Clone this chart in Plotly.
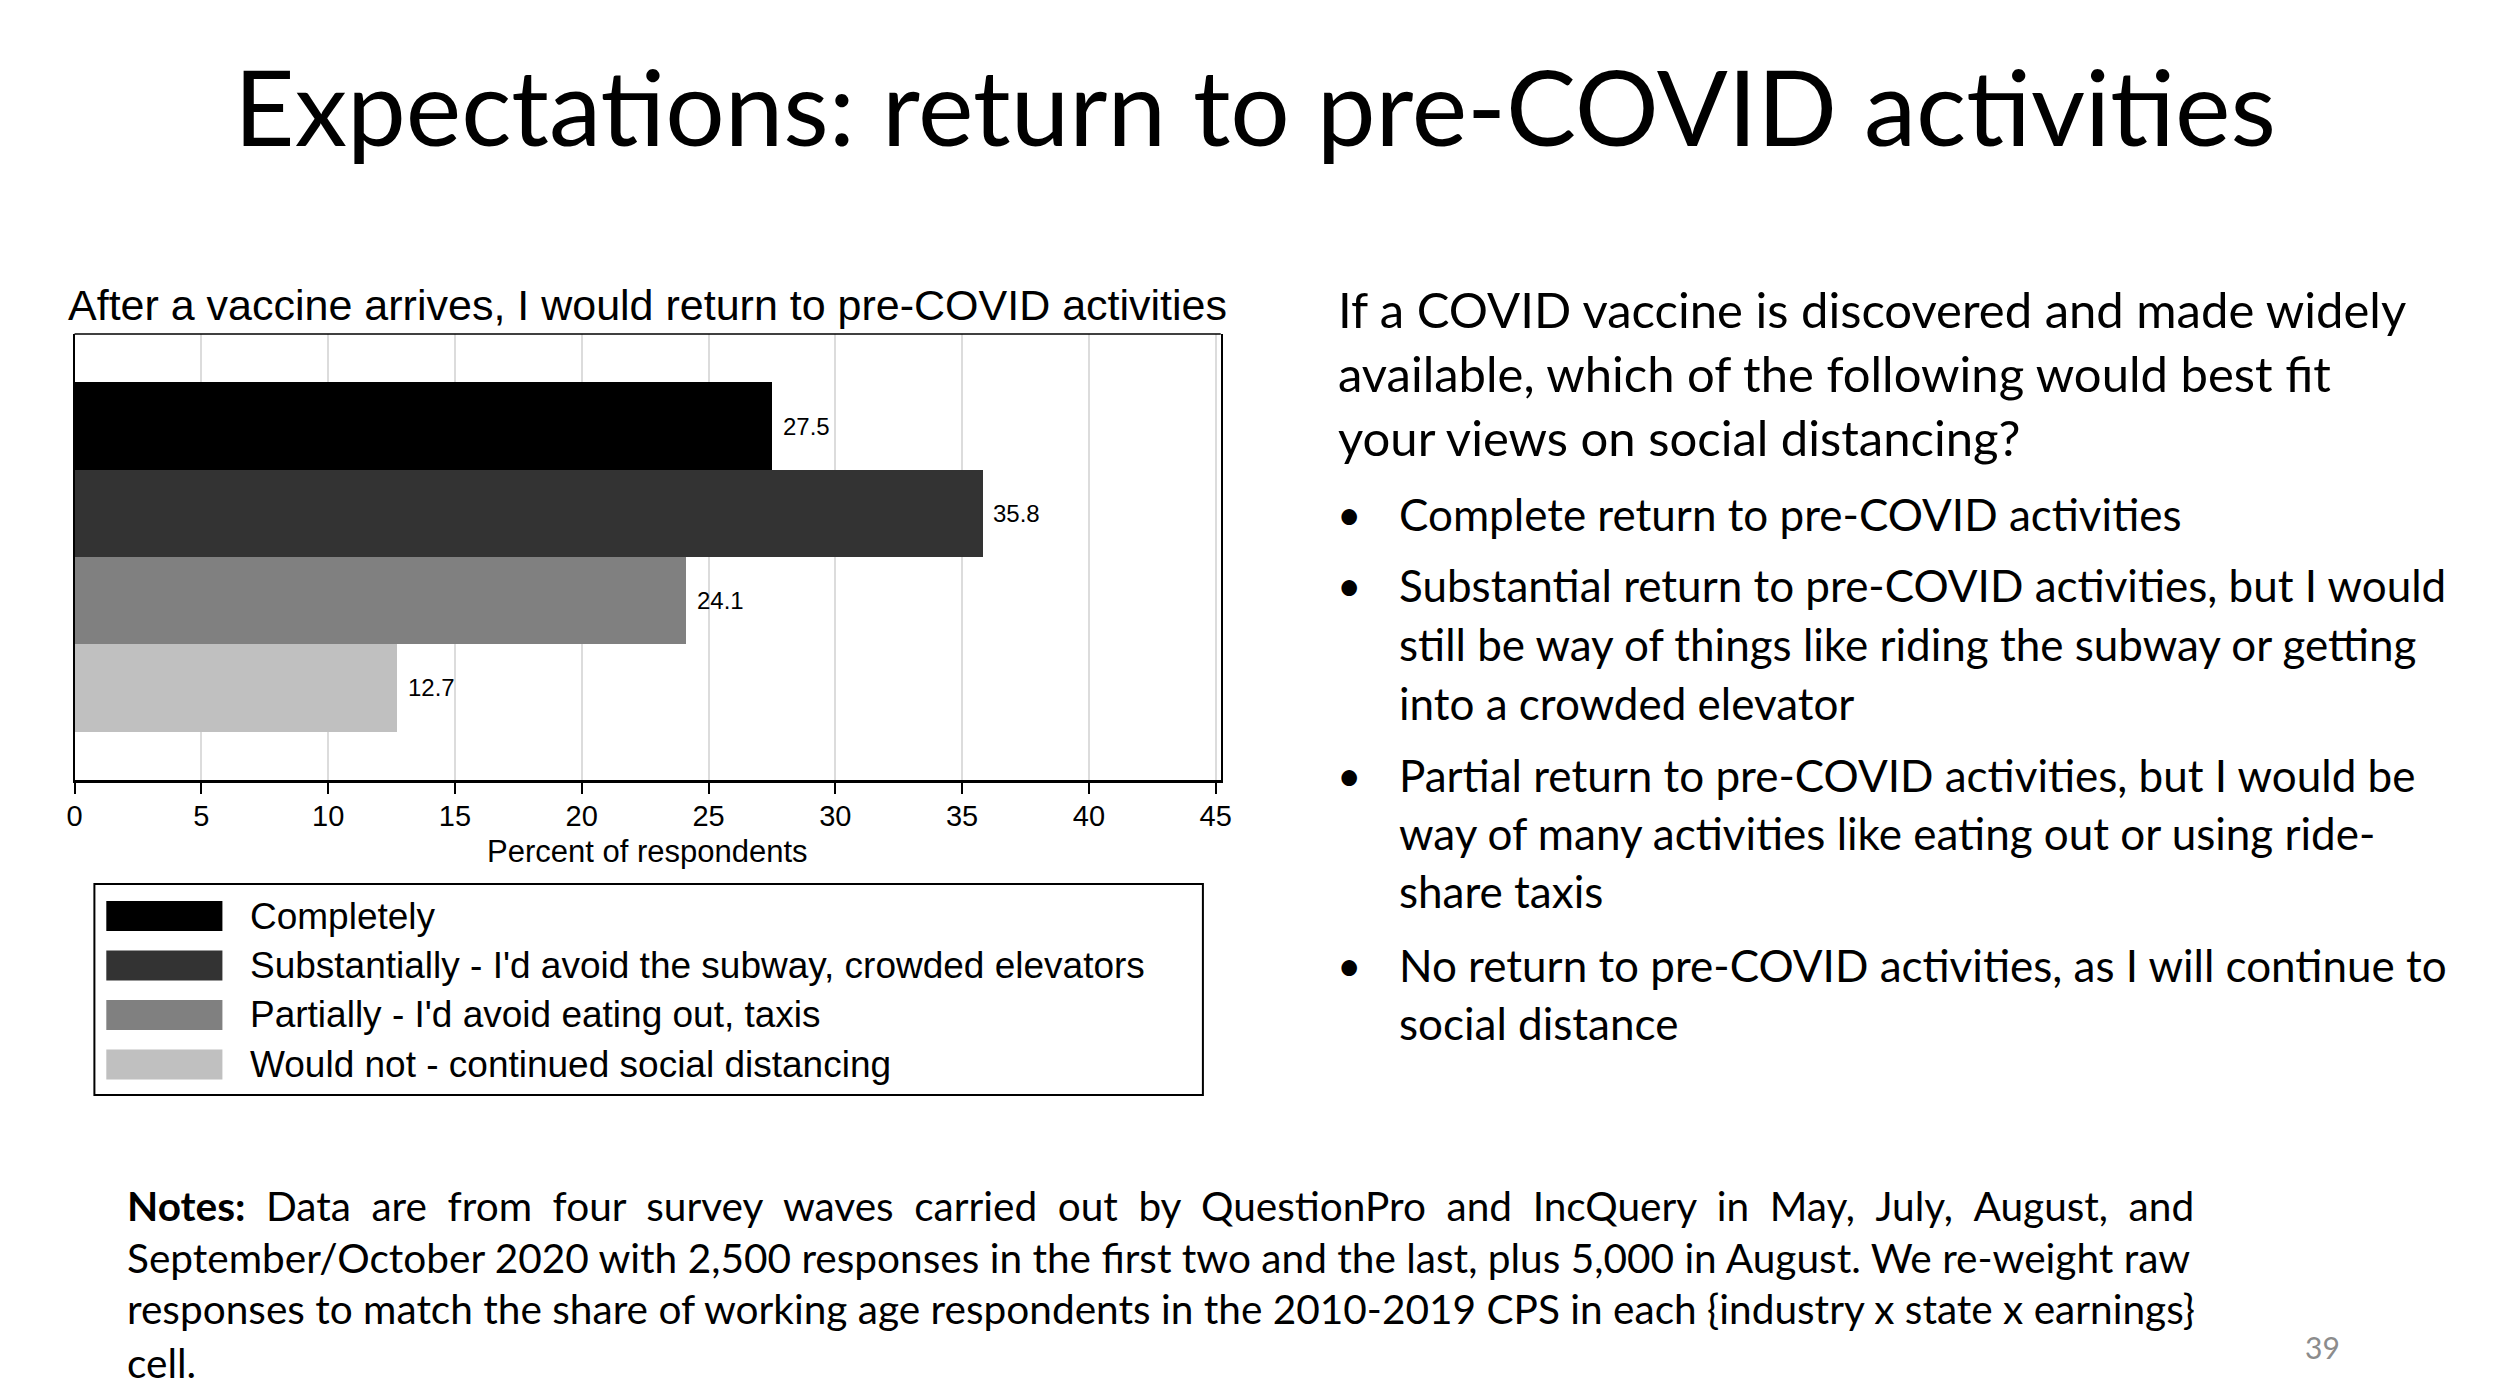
import plotly.graph_objects as go

# ---------------- data ----------------
categories = [
    "Completely",
    "Substantially - I'd avoid the subway, crowded elevators",
    "Partially - I'd avoid eating out, taxis",
    "Would not - continued social distancing",
]
values = [27.5, 35.8, 24.1, 12.7]
bar_colors = ["#000000", "#333333", "#808080", "#c0c0c0"]
x_ticks = [0, 5, 10, 15, 20, 25, 30, 35, 40, 45]

slide_title = "Expectations: return to pre-COVID activities"
chart_title = "After a vaccine arrives, I would return to pre-COVID activities"
x_axis_title = "Percent of respondents"

question_lines = [
    "If a COVID vaccine is discovered and made widely",
    "available, which of the following would best fit",
    "your views on social distancing?",
]
bullet_items = [
    ["Complete return to pre-COVID activities"],
    ["Substantial return to pre-COVID activities, but I would",
     "still be way of things like riding the subway or getting",
     "into a crowded elevator"],
    ["Partial return to pre-COVID activities, but I would be",
     "way of many activities like eating out or using ride-",
     "share taxis"],
    ["No return to pre-COVID activities, as I will continue to",
     "social distance"],
]
notes_lines = [
    "<b>Notes:</b> Data are from four survey waves carried out by QuestionPro and IncQuery in May, July, August, and",
    "September/October 2020 with 2,500 responses in the first two and the last, plus 5,000 in August. We re-weight raw",
    "responses to match the share of working age respondents in the 2010-2019 CPS in each {industry x state x earnings}",
    "cell.",
]
page_number = "39"

# ---------------- layout helpers ----------------
W, H = 2498, 1390


def px(x):
    return x / W


def py(y):
    return 1 - y / H


CHART_FONT = "Liberation Sans, Arial, sans-serif"
SLIDE_FONT = "Lato, Open Sans, sans-serif"

plot_left, plot_right = 59, 1214
plot_top, plot_bottom = 326, 772

fig = go.Figure()

n = len(categories)
for i, (cat, v, c) in enumerate(zip(categories, values, bar_colors)):
    fig.add_trace(go.Bar(
        x=[v], y=[i], orientation="h", width=1,
        marker=dict(color=c, line=dict(width=0)),
        name=cat, showlegend=False, hoverinfo="x+name",
    ))

annotations = []
# value labels
for i, v in enumerate(values):
    annotations.append(dict(
        x=v, y=i, xref="x", yref="y", text=f"{v:.1f}", showarrow=False,
        xanchor="left", yanchor="middle", xshift=9,
        font=dict(family=CHART_FONT, size=24, color="#000000"),
    ))

# slide title
annotations.append(dict(
    x=px(1248), y=py(97), xref="paper", yref="paper", text=slide_title,
    showarrow=False, xanchor="center", yanchor="middle",
    font=dict(family=SLIDE_FONT, size=105, color="#000000"),
))
# chart title
annotations.append(dict(
    x=px(50), y=py(297), xref="paper", yref="paper", text=chart_title,
    showarrow=False, xanchor="left", yanchor="middle",
    font=dict(family=CHART_FONT, size=43, color="#000000"),
))
# x axis title
annotations.append(dict(
    x=px((plot_left + plot_right) / 2), y=py(843), xref="paper", yref="paper",
    text=x_axis_title, showarrow=False, xanchor="center", yanchor="middle",
    font=dict(family=CHART_FONT, size=31, color="#000000"),
))

shapes = []
# top frame line
shapes.append(dict(type="line", xref="x domain", yref="y domain",
                   x0=0, x1=1, y0=1, y1=1, line=dict(color="#000000", width=1.5)))

# legend box
leg_l, leg_r, leg_t, leg_b = 79, 1196, 876, 1087
shapes.append(dict(type="rect", xref="paper", yref="paper",
                   x0=px(leg_l), x1=px(leg_r), y0=py(leg_b), y1=py(leg_t),
                   line=dict(color="#000000", width=2), fillcolor="rgba(0,0,0,0)"))
row_y0 = 908
row_gap = 49.5
for i, (cat, c) in enumerate(zip(categories, bar_colors)):
    yc = row_y0 + i * row_gap
    shapes.append(dict(type="rect", xref="paper", yref="paper",
                       x0=px(91), x1=px(208), y0=py(yc + 15), y1=py(yc - 15),
                       line=dict(width=0), fillcolor=c))
    annotations.append(dict(
        x=px(234), y=py(yc), xref="paper", yref="paper", text=cat,
        showarrow=False, xanchor="left", yanchor="middle",
        font=dict(family=CHART_FONT, size=37, color="#000000"),
    ))

# right-hand question text
q_x = 1330
q_ys = [301, 365, 429]
for t, yv in zip(question_lines, q_ys):
    annotations.append(dict(
        x=px(q_x), y=py(yv), xref="paper", yref="paper", text=t,
        showarrow=False, xanchor="left", yanchor="middle",
        font=dict(family=SLIDE_FONT, size=49, color="#000000"),
    ))

bullet_ys = [[506], [577, 636, 695], [767, 825, 883], [957, 1015]]
for lines, ys in zip(bullet_items, bullet_ys):
    annotations.append(dict(
        x=px(1343), y=py(ys[0]), xref="paper", yref="paper", text="•",
        showarrow=False, xanchor="center", yanchor="middle",
        font=dict(family=SLIDE_FONT, size=42, color="#000000"),
    ))
    for t, yv in zip(lines, ys):
        annotations.append(dict(
            x=px(1392), y=py(yv), xref="paper", yref="paper", text=t,
            showarrow=False, xanchor="left", yanchor="middle",
            font=dict(family=SLIDE_FONT, size=44, color="#000000"),
        ))

# notes (first line is justified in the reference: widen its word gaps)
notes_display = list(notes_lines)
notes_display[0] = notes_display[0].replace(" ", " \u2005")
notes_ys = [1197, 1249, 1300, 1354]
for t, yv in zip(notes_display, notes_ys):
    annotations.append(dict(
        x=px(110), y=py(yv), xref="paper", yref="paper", text=t,
        showarrow=False, xanchor="left", yanchor="middle",
        font=dict(family=SLIDE_FONT, size=40.6, color="#000000"),
    ))

# page number
annotations.append(dict(
    x=px(2324), y=py(1339), xref="paper", yref="paper", text=page_number,
    showarrow=False, xanchor="center", yanchor="middle",
    font=dict(family=SLIDE_FONT, size=30, color="#8c8c8c"),
))

fig.update_layout(
    width=W, height=H,
    margin=dict(l=0, r=0, t=0, b=0),
    paper_bgcolor="#ffffff", plot_bgcolor="#ffffff",
    bargap=0, barmode="overlay",
    xaxis=dict(
        domain=[px(plot_left), px(plot_right)],
        range=[0, 45.2], tickvals=x_ticks, ticktext=[str(t) for t in x_ticks],
        showgrid=True, gridcolor="#dcdcdc", gridwidth=1.5,
        showline=True, linecolor="#000000", linewidth=3, mirror=False,
        ticks="outside", ticklen=11, tickwidth=1.5, tickcolor="#000000",
        tickfont=dict(family=CHART_FONT, size=29, color="#000000"),
        ticklabelstandoff=-3, zeroline=False, fixedrange=True,
    ),
    yaxis=dict(
        domain=[py(plot_bottom), py(plot_top)],
        range=[n - 0.5 + 0.555, -0.5 - 0.555],
        showticklabels=False, ticks="", showgrid=False, zeroline=False,
        showline=True, linecolor="#000000", linewidth=1.5, mirror=True,
        fixedrange=True,
    ),
    annotations=annotations,
    shapes=shapes,
)

fig.write_html("out.html")
